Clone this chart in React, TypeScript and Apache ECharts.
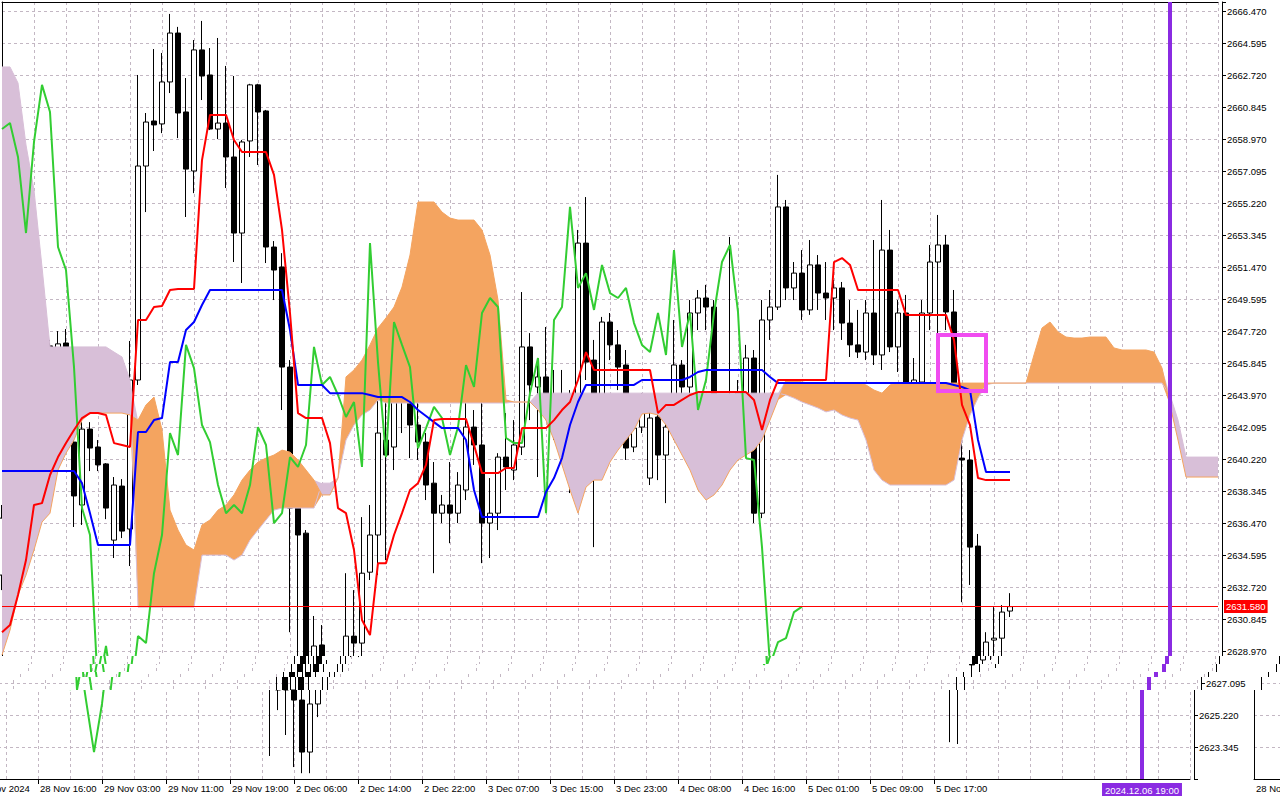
import React, { useEffect, useRef } from 'react';
import * as echarts from 'echarts';

// ---------- data (XAUUSD H1, 28 Nov 2024 08:00 .. 5 Dec 2024 23:00) ----------
const opens = [
  2633.43, 2636.77, 2637.24, 2644.05, 2646.10, 2647.51, 2646.87, 2645.98, 2647.04, 2641.23,
  2637.54, 2641.99, 2640.94, 2639.95, 2635.48, 2638.65, 2636.13, 2644.87, 2657.42, 2660.06,
  2659.89, 2662.35, 2665.22, 2660.59, 2657.13, 2664.23, 2662.76, 2659.59, 2659.94, 2657.95,
  2653.49, 2658.89, 2662.18, 2660.65, 2652.67, 2651.50, 2645.63, 2637.36, 2635.89, 2626.69,
  2629.33, 2626.10, 2623.05, 2625.87, 2629.85, 2629.44, 2633.60, 2635.78, 2641.35, 2640.94,
  2646.93, 2645.57, 2642.23, 2641.23, 2638.82, 2637.06, 2637.54, 2637.06, 2638.42, 2642.11,
  2641.06, 2636.48, 2637.06, 2640.35, 2639.59, 2640.94, 2646.81, 2644.46, 2645.05, 2643.99,
  2642.70, 2643.70, 2639.77, 2652.90, 2646.04, 2640.35, 2648.27, 2646.93, 2645.75, 2640.94,
  2642.11, 2639.12, 2642.70, 2640.47, 2642.11, 2645.75, 2644.46, 2648.80, 2649.68, 2649.15,
  2641.47, 2641.06, 2641.17, 2644.10, 2646.16, 2637.06, 2648.39, 2649.15, 2655.02, 2650.27,
  2651.14, 2648.98, 2651.62, 2649.97, 2649.68, 2650.27, 2648.21, 2646.93, 2646.51, 2648.80,
  2646.34, 2652.49, 2646.81, 2648.80, 2643.11, 2644.75, 2648.80, 2651.79, 2652.79, 2648.86,
  2640.29, 2640.18, 2635.13, 2628.45, 2629.62, 2629.73, 2631.32,
];
const closes = [
  2636.77, 2636.71, 2644.05, 2646.10, 2647.51, 2646.81, 2645.98, 2646.99, 2641.17, 2638.07,
  2641.99, 2640.88, 2639.89, 2637.36, 2638.71, 2636.01, 2644.87, 2657.42, 2660.00, 2659.83,
  2662.35, 2665.22, 2660.53, 2657.24, 2664.23, 2662.70, 2659.59, 2659.94, 2657.95, 2653.49,
  2658.83, 2662.18, 2660.59, 2652.67, 2651.32, 2645.63, 2637.36, 2635.78, 2626.69, 2629.27,
  2626.10, 2623.05, 2625.87, 2629.85, 2629.44, 2633.54, 2635.78, 2641.76, 2640.47, 2646.93,
  2645.57, 2642.23, 2641.23, 2638.71, 2637.06, 2637.54, 2637.06, 2638.71, 2642.11, 2641.06,
  2636.48, 2637.06, 2640.35, 2639.77, 2641.06, 2646.81, 2644.58, 2645.05, 2643.99, 2642.70,
  2643.58, 2639.77, 2652.90, 2645.92, 2640.35, 2648.27, 2646.93, 2645.63, 2640.88, 2642.05,
  2643.29, 2642.64, 2640.47, 2642.11, 2645.75, 2644.46, 2648.80, 2649.68, 2649.15, 2641.47,
  2641.17, 2641.17, 2644.10, 2646.16, 2637.06, 2648.39, 2649.15, 2655.02, 2650.27, 2651.14,
  2648.98, 2651.62, 2649.97, 2649.68, 2650.27, 2648.21, 2646.93, 2646.51, 2648.80, 2646.34,
  2652.49, 2646.81, 2648.80, 2643.11, 2644.87, 2648.80, 2651.79, 2652.79, 2648.86, 2640.29,
  2640.18, 2635.07, 2628.16, 2629.50, 2629.73, 2631.26, 2631.58,
];
const highs = [
  2637.54, 2639.30, 2646.34, 2647.86, 2649.50, 2649.38, 2647.22, 2647.74, 2647.86, 2643.05,
  2642.40, 2642.40, 2641.35, 2640.00, 2639.18, 2639.06, 2647.16, 2662.76, 2660.53, 2664.28,
  2664.05, 2666.34, 2665.58, 2662.58, 2664.81, 2665.93, 2664.34, 2664.93, 2663.29, 2662.70,
  2658.95, 2662.24, 2662.24, 2660.71, 2653.02, 2652.31, 2646.04, 2639.18, 2636.07, 2631.03,
  2630.50, 2628.45, 2626.69, 2633.54, 2632.55, 2636.83, 2637.54, 2645.17, 2645.05, 2648.80,
  2649.38, 2649.38, 2644.10, 2641.76, 2640.06, 2638.13, 2640.06, 2639.47, 2643.70, 2643.11,
  2645.28, 2639.12, 2640.58, 2642.93, 2642.52, 2650.03, 2647.62, 2646.16, 2647.98, 2645.46,
  2645.46, 2644.28, 2653.67, 2655.60, 2647.22, 2648.57, 2648.80, 2647.80, 2646.63, 2642.34,
  2644.10, 2643.11, 2643.29, 2642.52, 2648.39, 2646.04, 2649.56, 2650.15, 2650.45, 2649.56,
  2642.52, 2653.26, 2644.87, 2646.93, 2646.63, 2649.56, 2650.15, 2656.90, 2655.43, 2651.79,
  2652.49, 2653.08, 2652.20, 2651.79, 2650.74, 2650.62, 2649.56, 2648.98, 2649.56, 2653.08,
  2655.43, 2653.67, 2649.56, 2649.86, 2646.16, 2649.56, 2652.79, 2654.55, 2653.38, 2650.15,
  2641.94, 2640.76, 2635.84, 2630.08, 2631.55, 2631.67, 2632.37,
];
const lows = [
  2632.55, 2634.49, 2635.66, 2642.70, 2644.75, 2644.87, 2643.87, 2642.70, 2641.06, 2636.25,
  2636.37, 2639.53, 2639.53, 2636.71, 2634.43, 2635.60, 2633.96, 2644.58, 2654.72, 2658.30,
  2659.35, 2661.70, 2659.06, 2654.43, 2655.83, 2661.29, 2659.53, 2659.00, 2656.13, 2651.79,
  2650.56, 2657.95, 2657.48, 2651.73, 2649.56, 2643.11, 2630.08, 2622.82, 2625.51, 2624.05,
  2622.17, 2621.81, 2621.81, 2625.10, 2628.62, 2628.62, 2633.14, 2633.43, 2634.31, 2639.59,
  2641.76, 2640.29, 2640.18, 2637.83, 2633.54, 2636.48, 2635.30, 2636.48, 2637.83, 2639.89,
  2634.13, 2634.43, 2636.07, 2638.42, 2639.00, 2640.47, 2642.52, 2639.18, 2642.52, 2641.35,
  2641.94, 2638.24, 2639.00, 2644.87, 2635.07, 2639.59, 2646.04, 2644.28, 2640.18, 2640.64,
  2641.76, 2638.71, 2639.00, 2637.65, 2641.35, 2643.70, 2643.99, 2647.80, 2647.80, 2641.06,
  2640.76, 2640.47, 2640.76, 2643.70, 2636.48, 2636.77, 2647.22, 2648.98, 2649.56, 2649.56,
  2648.39, 2648.69, 2648.98, 2648.39, 2647.80, 2647.22, 2646.22, 2646.16, 2646.04, 2645.75,
  2645.46, 2646.51, 2645.34, 2642.05, 2641.82, 2643.99, 2647.80, 2644.28, 2647.80, 2639.47,
  2631.84, 2632.85, 2623.63, 2623.52, 2628.45, 2627.98, 2630.97,
];
// Tenkan-sen (red)
const tenkan = [
  2630.08, 2630.50, 2632.26, 2634.31, 2637.54, 2637.65, 2639.30, 2640.35, 2641.17, 2641.94,
  2642.64, 2642.93, 2642.93, 2642.82, 2641.17, 2641.06, 2640.94, 2648.39, 2648.39, 2649.15,
  2649.21, 2650.15, 2650.21, 2650.21, 2650.21, 2657.77, 2660.42, 2660.42, 2660.42, 2658.95,
  2658.24, 2658.24, 2658.24, 2658.24, 2656.90, 2653.67, 2648.80, 2642.93, 2642.64, 2642.64,
  2642.64, 2641.17, 2637.36, 2637.06, 2634.90, 2630.79, 2629.91, 2634.13, 2634.13, 2635.78,
  2637.06, 2638.42, 2638.82, 2639.89, 2642.52, 2642.58, 2642.58, 2642.58, 2642.58, 2641.06,
  2639.41, 2639.41, 2639.41, 2639.71, 2639.71, 2642.05, 2642.05, 2642.05, 2642.05, 2642.52,
  2643.11, 2643.58, 2644.87, 2646.51, 2645.46, 2645.46, 2645.46, 2645.46, 2645.46, 2645.46,
  2645.46, 2645.46, 2642.93, 2643.41, 2643.41, 2643.70, 2643.99, 2644.16, 2644.16, 2644.16,
  2644.16, 2644.16, 2644.16, 2644.16, 2643.70, 2641.94, 2643.70, 2644.87, 2644.87, 2644.87,
  2644.87, 2644.87, 2644.87, 2644.87, 2651.79, 2652.02, 2651.62, 2650.15, 2650.15, 2650.15,
  2650.15, 2650.15, 2650.15, 2648.69, 2648.69, 2648.69, 2648.69, 2648.69, 2648.69, 2647.22,
  2643.41, 2642.23, 2639.12, 2639.00, 2639.00, 2639.00, 2639.00,
];
// Kijun-sen (blue)
const kijun = [
  2639.53, 2639.53, 2639.53, 2639.53, 2639.53, 2639.53, 2639.53, 2639.53, 2639.53, 2639.53,
  2638.82, 2637.06, 2635.19, 2635.19, 2635.19, 2635.19, 2635.19, 2641.82, 2641.82, 2642.52,
  2642.64, 2645.92, 2645.92, 2647.80, 2648.27, 2649.27, 2650.15, 2650.15, 2650.15, 2650.15,
  2650.15, 2650.15, 2650.15, 2650.15, 2650.15, 2650.15, 2647.80, 2644.58, 2644.58, 2644.58,
  2644.58, 2644.10, 2644.10, 2644.10, 2644.10, 2644.10, 2643.99, 2643.87, 2643.87, 2643.87,
  2643.87, 2643.58, 2643.11, 2642.76, 2642.40, 2642.05, 2642.05, 2642.05, 2641.35, 2638.42,
  2636.83, 2636.83, 2636.83, 2636.83, 2636.83, 2636.83, 2636.83, 2636.83, 2638.30, 2639.12,
  2640.29, 2642.23, 2643.58, 2644.58, 2644.58, 2644.58, 2644.58, 2644.58, 2644.58, 2644.58,
  2644.87, 2644.87, 2644.87, 2644.87, 2644.87, 2644.87, 2645.05, 2645.34, 2645.46, 2645.46,
  2645.46, 2645.46, 2645.46, 2645.46, 2645.46, 2645.46, 2645.05, 2644.69, 2644.69, 2644.69,
  2644.69, 2644.69, 2644.69, 2644.69, 2644.69, 2644.69, 2644.69, 2644.69, 2644.69, 2644.69,
  2644.69, 2644.69, 2644.69, 2644.69, 2644.69, 2644.69, 2644.69, 2644.69, 2644.69, 2644.58,
  2644.46, 2644.28, 2641.35, 2639.47, 2639.47, 2639.47, 2639.47,
];
// Senkou Span A (shifted 26 bars ahead)
const spanA = [
  2628.74, 2630.20, 2632.26, 2633.43, 2634.90, 2636.54, 2637.06, 2639.59, 2640.58, 2641.35,
  2642.52, 2642.93, 2642.93, 2642.93, 2642.93, 2642.93, 2642.82, 2642.52, 2643.41, 2643.87,
  2641.94, 2637.24, 2636.07, 2635.19, 2634.90, 2636.37, 2636.66, 2637.24, 2637.54, 2638.13,
  2639.00, 2639.59, 2640.06, 2640.29, 2640.47, 2640.76, 2640.64, 2640.18, 2639.59, 2639.00,
  2638.13, 2638.13, 2639.12, 2645.05, 2645.46, 2646.04, 2646.93, 2647.92, 2648.51, 2649.15,
  2650.32, 2652.20, 2655.31, 2655.31, 2655.31, 2654.72, 2654.37, 2654.25, 2654.25, 2654.25,
  2653.67, 2652.20, 2649.56, 2643.70, 2643.58, 2643.58, 2643.58, 2643.11, 2642.52, 2641.35,
  2639.89, 2638.42, 2637.06, 2638.59, 2639.00, 2639.00, 2640.06, 2640.76, 2641.35, 2641.94,
  2642.88, 2642.93, 2642.82, 2642.23, 2641.35, 2640.47, 2639.59, 2638.42, 2637.83, 2638.13,
  2638.71, 2639.59, 2640.18, 2640.47, 2640.76, 2641.35, 2642.52, 2643.70, 2644.87, 2644.87,
  2644.75, 2644.69, 2644.69, 2644.69, 2644.69, 2644.69, 2644.69, 2644.69, 2644.58, 2644.28,
  2644.10, 2644.58, 2644.69, 2644.69, 2644.69, 2644.69, 2644.69, 2644.69, 2644.69, 2644.69,
  2644.69, 2644.69, 2644.69, 2644.69, 2644.69, 2644.69, 2644.69, 2644.69, 2644.69, 2646.34,
  2647.92, 2648.27, 2647.69, 2647.39, 2647.33, 2647.33, 2647.39, 2647.39, 2647.39, 2646.75,
  2646.63, 2646.63, 2646.63, 2646.63, 2646.51, 2645.57, 2643.41, 2641.35, 2639.18, 2639.18,
  2639.18, 2639.18, 2639.18,
];
// Senkou Span B (shifted 26 bars ahead)
const spanB = [
  2663.23, 2663.23, 2662.29, 2658.65, 2656.01, 2651.50, 2646.81, 2646.81, 2646.81, 2646.81,
  2646.81, 2646.81, 2646.81, 2646.81, 2646.51, 2646.22, 2644.87, 2631.55, 2631.55, 2631.55,
  2631.55, 2631.55, 2631.55, 2631.55, 2631.55, 2634.60, 2634.60, 2634.60, 2634.60, 2634.31,
  2634.60, 2635.48, 2636.07, 2636.66, 2637.24, 2637.36, 2637.36, 2637.36, 2637.36, 2637.36,
  2638.82, 2638.82, 2639.12, 2641.35, 2642.23, 2642.82, 2643.11, 2643.70, 2643.52, 2643.52,
  2643.52, 2643.52, 2643.52, 2643.52, 2643.52, 2643.52, 2643.52, 2643.52, 2643.52, 2643.52,
  2643.52, 2643.52, 2643.52, 2643.52, 2643.58, 2643.58, 2643.58, 2644.10, 2644.10, 2644.10,
  2644.10, 2644.10, 2644.10, 2644.10, 2644.10, 2644.10, 2644.10, 2644.10, 2644.10, 2644.10,
  2644.10, 2644.10, 2644.10, 2644.10, 2644.10, 2644.10, 2644.10, 2644.10, 2644.10, 2644.10,
  2644.10, 2644.10, 2644.10, 2644.10, 2644.10, 2644.10, 2644.10, 2644.10, 2643.99, 2643.81,
  2643.58, 2643.41, 2643.23, 2643.00, 2643.11, 2642.82, 2642.64, 2642.52, 2641.35, 2639.59,
  2639.00, 2638.71, 2638.71, 2638.71, 2638.71, 2638.71, 2638.71, 2638.71, 2638.71, 2639.00,
  2641.35, 2642.82, 2643.81, 2644.58, 2644.69, 2644.69, 2644.69, 2644.69, 2644.69, 2644.69,
  2644.69, 2644.69, 2644.69, 2644.69, 2644.69, 2644.69, 2644.69, 2644.69, 2644.69, 2644.69,
  2644.69, 2644.69, 2644.69, 2644.69, 2644.69, 2644.69, 2643.99, 2642.52, 2640.35, 2640.35,
  2640.35, 2640.35, 2640.35,
];
const CHIKOU_SHIFT = 26;
const BAR_COUNT = 153; // candles + 26 projected bars
const xTickIndex = [0, 8, 16, 24, 32, 40, 48, 56, 64, 72, 80, 88, 96, 104, 112, 120];
const xTickLabels = [
  '28 Nov 2024', '28 Nov 16:00', '29 Nov 03:00', '29 Nov 11:00', '29 Nov 19:00',
  '2 Dec 06:00', '2 Dec 14:00', '2 Dec 22:00', '3 Dec 07:00', '3 Dec 15:00',
  '3 Dec 23:00', '4 Dec 08:00', '4 Dec 16:00', '5 Dec 01:00', '5 Dec 09:00', '5 Dec 17:00',
];
const Y_MIN = 2621.47;
const Y_MAX = 2667.04;
const Y_STEP = 1.875;
const BID = 2631.58;
const VLINE_INDEX = 146;
const VLINE_LABEL = '2024.12.06 19:00';
const RECT = { from: 117, to: 123, top: 2647.51, bottom: 2644.22 };

// ---------- option ----------
type Mode = { y: (v: number) => boolean; x: (i: number) => boolean; bid: boolean; vline: boolean };
const never = () => false;
const MODE_TOP: Mode = { y: (v) => v > 2628.5, x: never, bid: true, vline: false };
const MODE_BLANK: Mode = { y: never, x: never, bid: false, vline: false };
const MODE_MID: Mode = { y: (v) => Math.abs(v - 2627.095) < 0.01, x: never, bid: false, vline: false };
const MODE_LOW: Mode = { y: (v) => v < 2626 && v > 2622.5, x: () => true, bid: false, vline: true };
const MODE_WRAP: Mode = { y: never, x: (i) => i === 0, bid: false, vline: false };

const FONT = { fontFamily: '"Liberation Sans", Arial, sans-serif', fontSize: 9.5 };
const GRID_COLOR = '#c3b7c3';
const RECT_COLOR = '#F04CF0';

function buildOption(m: Mode) {
  const cats = Array.from({ length: BAR_COUNT }, (_, i) => String(i));
  const candles = opens.map((o, i) => [o, closes[i], lows[i], highs[i]]);
  const chikou = closes.slice(CHIKOU_SHIFT);
  const base = spanA.map((a, i) => Math.min(a, spanB[i]));
  const bull = spanA.map((a, i) => Math.max(a - spanB[i], 0));
  const bear = spanA.map((a, i) => Math.max(spanB[i] - a, 0));
  const tickSet = new Set(xTickIndex);
  const labelMap: Record<number, string> = {};
  xTickIndex.forEach((ix, k) => (labelMap[ix] = xTickLabels[k]));
  const hasY = m.y !== never;
  const hasX = m.x !== never;
  const noLine = { width: 0, opacity: 0 };

  const rl = String(RECT.from);
  const rr = String(RECT.to);
  const rectStyle = { color: RECT_COLOR, width: 4, type: 'solid', cap: 'square' };
  const rectEdges = [
    [{ xAxis: rl, yAxis: RECT.top }, { xAxis: rr, yAxis: RECT.top }],
    [{ xAxis: rr, yAxis: RECT.top }, { xAxis: rr, yAxis: RECT.bottom }],
    [{ xAxis: rr, yAxis: RECT.bottom }, { xAxis: rl, yAxis: RECT.bottom }],
    [{ xAxis: rl, yAxis: RECT.bottom }, { xAxis: rl, yAxis: RECT.top }],
  ].map((seg) => [{ ...seg[0], lineStyle: rectStyle, label: { show: false } }, seg[1]]);

  return {
    animation: false,
    backgroundColor: '#ffffff',
    grid: { left: 2, top: 2, width: 1216, height: 777, containLabel: false },
    xAxis: [
      {
        type: 'category',
        data: cats,
        boundaryGap: false,
        position: 'bottom',
        axisLine: { onZero: false, lineStyle: { color: '#000', width: 1 } },
        axisTick: {
          show: true,
          length: 5,
          interval: (i: number) => tickSet.has(i) && i > 0,
          lineStyle: { color: '#000' },
        },
        axisLabel: {
          show: hasX,
          interval: (i: number) => tickSet.has(i) && m.x(i),
          formatter: (_v: string, i: number) => labelMap[i] ?? '',
          align: 'left',
          margin: 4,
          padding: [0, 0, 0, 2],
          color: '#000',
          ...FONT,
        },
        splitLine: {
          show: true,
          interval: (i: number) => i % 4 === 0 && i > 0,
          lineStyle: { color: GRID_COLOR, type: [3, 3], width: 1 },
        },
      },
      {
        type: 'category',
        data: cats,
        boundaryGap: false,
        position: 'top',
        axisLine: { onZero: false, lineStyle: { color: '#000', width: 1 } },
        axisTick: { show: false },
        axisLabel: { show: false },
        splitLine: { show: false },
      },
    ],
    yAxis: [
      {
        type: 'value',
        position: 'right',
        offset: 4,
        min: Y_MIN,
        max: Y_MAX,
        interval: Y_STEP,
        axisLine: { show: true, onZero: false, lineStyle: { color: '#000', width: 1 } },
        axisTick: { show: true, length: 4, lineStyle: { color: '#000' } },
        axisLabel: {
          show: hasY,
          margin: 5,
          color: '#000',
          ...FONT,
          formatter: (v: number) => {
            const k = (v - Y_MIN) / Y_STEP;
            if (Math.abs(k - Math.round(k)) > 0.001 || v < Y_MIN + 1) return '';
            return m.y(v) ? v.toFixed(3) : '';
          },
        },
        splitLine: { show: true, lineStyle: { color: GRID_COLOR, type: [3, 3], width: 1 } },
      },
      {
        type: 'value',
        position: 'left',
        min: Y_MIN,
        max: Y_MAX,
        axisLine: { show: true, onZero: false, lineStyle: { color: '#000', width: 1 } },
        axisTick: { show: false },
        axisLabel: { show: false },
        splitLine: { show: false },
      },
    ],
    series: [
      { type: 'line', data: base, stack: 'kumo', symbol: 'none', silent: true, lineStyle: noLine },
      {
        type: 'line', data: bull, stack: 'kumo', symbol: 'none', silent: true, lineStyle: noLine,
        areaStyle: { color: '#F4A460', opacity: 1 },
      },
      {
        type: 'line', data: bear, stack: 'kumo', symbol: 'none', silent: true, lineStyle: noLine,
        areaStyle: { color: '#D8BFD8', opacity: 1 },
      },
      { type: 'line', data: spanB, symbol: 'none', silent: true, lineStyle: { color: '#D8BFD8', width: 1 } },
      { type: 'line', data: spanA, symbol: 'none', silent: true, lineStyle: { color: '#F4A460', width: 1 } },
      {
        type: 'candlestick',
        data: candles,
        barWidth: 5,
        silent: true,
        itemStyle: {
          color: '#ffffff',
          color0: '#000000',
          borderColor: '#000000',
          borderColor0: '#000000',
          borderWidth: 1,
        },
        markLine: {
          silent: true,
          symbol: ['none', 'none'],
          data: [
            {
              yAxis: BID,
              lineStyle: { color: '#FF0000', width: 1, type: 'solid' },
              label: {
                show: m.bid,
                position: 'end',
                distance: 6,
                formatter: BID.toFixed(3),
                color: '#ffffff',
                backgroundColor: '#FF0000',
                padding: [2, 2, 1, 2],
                ...FONT,
              },
            },
          ],
        },
      },
      { type: 'line', data: chikou, symbol: 'none', silent: true, lineStyle: { color: '#32CD32', width: 2 } },
      { type: 'line', data: kijun, symbol: 'none', silent: true, lineStyle: { color: '#0000FF', width: 2 } },
      { type: 'line', data: tenkan, symbol: 'none', silent: true, lineStyle: { color: '#FF0000', width: 2 } },
      {
        // chart objects drawn above everything: rectangle and vertical time line
        type: 'line',
        data: [],
        symbol: 'none',
        silent: true,
        z: 10,
        markLine: {
          silent: true,
          symbol: ['none', 'none'],
          data: [
            ...rectEdges,
            {
              xAxis: String(VLINE_INDEX),
              lineStyle: { color: '#8A2BE2', width: 4, type: 'solid' },
              label: {
                show: m.vline,
                position: 'start',
                distance: 4,
                formatter: VLINE_LABEL,
                color: '#ffffff',
                backgroundColor: '#8A2BE2',
                padding: [2, 3, 1, 3],
                ...FONT,
              },
            },
          ],
        },
      },
    ],
  };
}

// ---------- rendering ----------
function ChartCopy({ mode, left, top }: { mode: Mode; left: number; top: number }) {
  const ref = useRef<HTMLDivElement>(null);
  useEffect(() => {
    if (!ref.current) return;
    const chart = echarts.init(ref.current, undefined, { renderer: 'svg', width: 1280, height: 800 });
    chart.setOption(buildOption(mode) as any);
    return () => chart.dispose();
  }, [mode]);
  return <div ref={ref} style={{ position: 'absolute', left, top, width: 1280, height: 800 }} />;
}

// The screenshot's lower rows are torn sideways; reproduce it with clipped, shifted copies.
const STRIPS = [
  { y0: 0, y1: 656, shift: 0, mode: MODE_TOP, wrap: MODE_BLANK },
  { y0: 656, y1: 664, shift: 3, mode: MODE_BLANK, wrap: MODE_BLANK },
  { y0: 664, y1: 672, shift: 6, mode: MODE_BLANK, wrap: MODE_BLANK },
  { y0: 672, y1: 677, shift: 14, mode: MODE_BLANK, wrap: MODE_BLANK },
  { y0: 677, y1: 690, shift: 21, mode: MODE_MID, wrap: MODE_BLANK },
  { y0: 690, y1: 800, shift: 28, mode: MODE_LOW, wrap: MODE_WRAP },
];

export default function App() {
  return (
    <div
      style={{
        position: 'fixed', left: 0, top: 0, width: 1280, height: 800,
        overflow: 'hidden', background: '#ffffff',
      }}
    >
      {STRIPS.map((s, k) => (
        <div
          key={k}
          style={{
            position: 'absolute', left: 0, top: s.y0, width: 1280,
            height: s.y1 - s.y0, overflow: 'hidden',
          }}
        >
          <ChartCopy mode={s.mode} left={-s.shift} top={-s.y0} />
          {s.shift > 0 && <ChartCopy mode={s.wrap} left={1280 - s.shift} top={-s.y0} />}
        </div>
      ))}
    </div>
  );
}
